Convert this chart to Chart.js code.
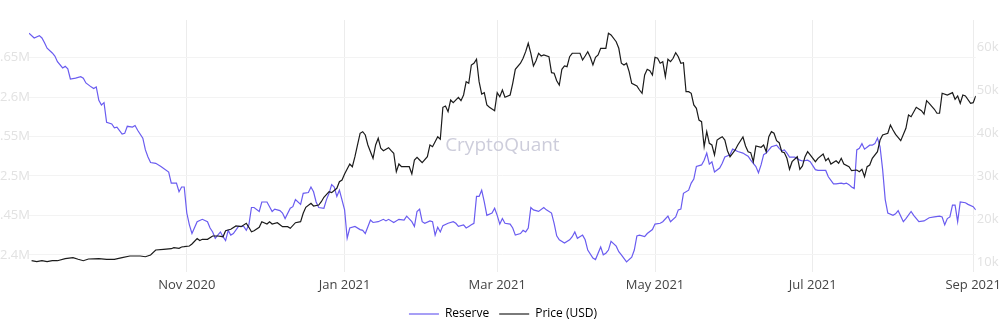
<!DOCTYPE html>
<html>
<head>
<meta charset="utf-8">
<title>Reserve vs Price</title>
<script src="https://cdn.jsdelivr.net/npm/chart.js@4.4.1/dist/chart.umd.min.js"></script>
<style>
  html, body { margin: 0; padding: 0; background: #fff; overflow: hidden; }
  canvas { display: block; }
</style>
</head>
<body>
<canvas id="reserveChart" width="1006" height="330"></canvas>
<script>
// --- Data (x = days since 2020-09-01) ---
const reserveDays = [
  0, 2, 4, 5, 6, 7, 9, 10, 11, 13, 14, 15, 16, 18, 20, 21, 22, 24, 25, 26,
  27, 28, 29, 30, 32, 33, 34, 36, 37, 38, 40, 41, 42, 44, 45, 46, 47, 49, 51, 54,
  55, 57, 58, 59, 60, 61, 62, 63, 65, 67, 69, 70, 71, 72, 74, 75, 76, 77, 78, 79,
  81, 83, 84, 85, 86, 87, 89, 90, 92, 94, 95, 97, 98, 99, 101, 102, 103, 105, 106, 108,
  109, 110, 111, 112, 114, 115, 116, 117, 118, 119, 120, 122, 123, 124, 126, 128, 129, 130, 132, 133,
  135, 137, 138, 139, 141, 143, 145, 146, 148, 149, 150, 151, 152, 153, 155, 156, 157, 158, 159, 160,
  162, 164, 165, 166, 168, 169, 170, 171, 172, 173, 174, 175, 176, 177, 179, 180, 181, 182, 183, 184,
  186, 187, 188, 190, 191, 192, 193, 194, 195, 197, 199, 200, 202, 203, 204, 205, 207, 209, 210, 211,
  212, 214, 215, 216, 218, 219, 220, 221, 222, 223, 224, 225, 227, 228, 229, 231, 233, 234, 235, 236,
  238, 239, 241, 242, 244, 245, 247, 248, 250, 251, 252, 253, 255, 256, 257, 258, 260, 261, 262, 263,
  264, 265, 267, 268, 269, 271, 272, 274, 276, 277, 278, 279, 281, 282, 283, 284, 285, 287, 289, 290,
  291, 292, 293, 294, 296, 297, 298, 299, 301, 302, 304, 305, 307, 308, 309, 311, 312, 314, 315, 316,
  317, 318, 319, 320, 321, 322, 323, 325, 326, 327, 328, 329, 330, 331, 332, 334, 335, 336, 338, 339,
  341, 342, 344, 346, 348, 350, 352, 353, 354, 355, 356, 357, 358, 359, 360, 362, 363, 365, 366
];
// exchange reserve, millions of BTC
const reserveValues = [
  2.681, 2.675, 2.678, 2.675, 2.669, 2.662, 2.656, 2.652, 2.645, 2.637, 2.639, 2.636, 2.623, 2.624, 2.626, 2.624, 2.618, 2.613, 2.611, 2.613,
  2.596, 2.590, 2.593, 2.568, 2.566, 2.561, 2.562, 2.553, 2.554, 2.563, 2.562, 2.564, 2.558, 2.548, 2.533, 2.524, 2.517, 2.516, 2.512, 2.505,
  2.491, 2.491, 2.480, 2.486, 2.486, 2.453, 2.438, 2.427, 2.442, 2.445, 2.442, 2.434, 2.429, 2.421, 2.429, 2.423, 2.418, 2.431, 2.425, 2.427,
  2.436, 2.436, 2.431, 2.438, 2.460, 2.460, 2.455, 2.467, 2.467, 2.455, 2.458, 2.456, 2.453, 2.446, 2.459, 2.461, 2.470, 2.464, 2.478, 2.479,
  2.486, 2.480, 2.467, 2.460, 2.459, 2.470, 2.478, 2.489, 2.486, 2.474, 2.482, 2.457, 2.421, 2.434, 2.436, 2.432, 2.431, 2.427, 2.444, 2.441,
  2.442, 2.445, 2.443, 2.445, 2.441, 2.445, 2.444, 2.449, 2.442, 2.436, 2.455, 2.458, 2.442, 2.440, 2.443, 2.442, 2.425, 2.435, 2.429, 2.437,
  2.440, 2.442, 2.440, 2.436, 2.438, 2.434, 2.436, 2.438, 2.440, 2.474, 2.474, 2.482, 2.467, 2.450, 2.453, 2.459, 2.450, 2.439, 2.446, 2.440,
  2.439, 2.434, 2.425, 2.427, 2.431, 2.429, 2.434, 2.460, 2.457, 2.455, 2.460, 2.457, 2.453, 2.440, 2.424, 2.419, 2.415, 2.419, 2.423, 2.429,
  2.421, 2.425, 2.419, 2.406, 2.396, 2.394, 2.402, 2.410, 2.400, 2.402, 2.406, 2.417, 2.411, 2.404, 2.400, 2.391, 2.397, 2.406, 2.424, 2.425,
  2.423, 2.427, 2.432, 2.439, 2.440, 2.442, 2.449, 2.442, 2.448, 2.457, 2.458, 2.478, 2.482, 2.491, 2.496, 2.512, 2.514, 2.520, 2.529, 2.515,
  2.518, 2.505, 2.510, 2.516, 2.524, 2.527, 2.534, 2.531, 2.529, 2.527, 2.525, 2.520, 2.512, 2.504, 2.514, 2.527, 2.529, 2.537, 2.539, 2.535,
  2.532, 2.533, 2.529, 2.524, 2.524, 2.522, 2.520, 2.519, 2.520, 2.518, 2.508, 2.507, 2.507, 2.507, 2.499, 2.490, 2.490, 2.491, 2.490, 2.491,
  2.489, 2.486, 2.484, 2.533, 2.535, 2.541, 2.534, 2.539, 2.539, 2.541, 2.548, 2.537, 2.508, 2.470, 2.453, 2.450, 2.452, 2.456, 2.442, 2.446,
  2.455, 2.450, 2.442, 2.443, 2.447, 2.448, 2.449, 2.448, 2.438, 2.446, 2.448, 2.463, 2.463, 2.442, 2.467, 2.466, 2.464, 2.461, 2.457
];

const priceDays = [
  1, 3, 5, 7, 9, 11, 14, 17, 19, 21, 23, 27, 30, 33, 36, 39, 43, 45, 47, 49,
  52, 55, 56, 58, 59, 60, 62, 63, 65, 66, 67, 69, 71, 73, 75, 76, 78, 80, 82, 84,
  85, 86, 87, 89, 90, 92, 93, 94, 96, 98, 100, 101, 103, 105, 106, 107, 109, 110, 112, 113,
  114, 116, 117, 119, 120, 121, 122, 124, 125, 126, 127, 128, 129, 130, 131, 132, 133, 134, 135, 136,
  137, 139, 140, 141, 142, 143, 144, 146, 147, 148, 149, 150, 151, 152, 154, 155, 156, 157, 158, 159,
  160, 161, 162, 163, 164, 166, 167, 168, 169, 170, 171, 172, 173, 174, 175, 176, 177, 178, 180, 181,
  182, 183, 184, 186, 187, 188, 190, 191, 192, 193, 194, 195, 196, 197, 198, 199, 201, 202, 203, 204,
  205, 206, 207, 208, 209, 210, 213, 214, 215, 216, 217, 218, 219, 220, 221, 223, 224, 225, 227, 228,
  229, 230, 231, 232, 233, 235, 236, 237, 238, 239, 240, 241, 242, 243, 244, 245, 246, 247, 248, 249,
  250, 251, 252, 253, 254, 255, 256, 257, 258, 259, 260, 261, 262, 263, 264, 265, 266, 267, 268, 269,
  270, 271, 272, 273, 274, 276, 277, 278, 279, 280, 281, 283, 284, 285, 286, 287, 288, 289, 290, 291,
  292, 293, 294, 295, 297, 298, 299, 300, 301, 302, 304, 305, 307, 308, 309, 310, 312, 313, 314, 315,
  317, 318, 320, 321, 322, 323, 324, 325, 326, 328, 329, 330, 332, 333, 334, 335, 337, 339, 340, 341,
  343, 345, 346, 347, 348, 350, 351, 352, 353, 355, 357, 358, 359, 360, 361, 362, 364, 365, 366
];
// BTC price, thousands of USD
const priceValues = [
  10.37, 10.14, 10.37, 10.14, 10.37, 10.37, 10.84, 11.07, 10.70, 10.37, 10.77, 10.84, 10.70, 10.70, 11.07, 11.47, 11.47, 11.30, 11.70, 12.87,
  13.03, 13.17, 13.40, 13.26, 13.56, 13.63, 13.80, 14.26, 15.55, 15.08, 15.36, 15.36, 16.13, 16.13, 15.96, 17.36, 17.69, 18.46, 18.29, 19.09,
  18.15, 17.13, 17.36, 18.15, 19.46, 18.92, 19.46, 18.92, 19.23, 18.29, 18.29, 17.92, 19.23, 19.46, 21.42, 22.81, 23.75, 23.12, 23.35, 24.12,
  25.14, 26.45, 26.22, 27.24, 28.78, 29.18, 30.57, 32.90, 32.27, 34.60, 37.33, 40.06, 40.43, 39.66, 37.33, 35.77, 34.23, 37.33, 38.89, 36.56,
  36.00, 36.70, 36.00, 35.40, 31.11, 32.90, 32.27, 32.27, 32.27, 30.57, 33.84, 34.46, 33.84, 33.21, 34.60, 37.33, 36.93, 38.10, 39.26, 38.66,
  46.11, 46.42, 45.09, 47.81, 47.19, 48.44, 47.65, 48.98, 52.08, 51.71, 55.97, 56.37, 57.30, 52.08, 49.21, 49.52, 46.65, 46.11, 45.32, 49.52,
  48.58, 50.14, 48.44, 48.98, 51.71, 54.97, 56.37, 57.53, 59.07, 61.03, 58.70, 55.74, 56.97, 58.70, 58.07, 58.30, 57.90, 54.18, 54.04, 52.30,
  51.31, 54.97, 55.74, 55.57, 57.90, 58.70, 58.70, 57.13, 58.07, 59.07, 57.76, 55.97, 57.76, 58.30, 59.86, 59.86, 63.36, 62.96, 61.40, 59.86,
  56.37, 55.97, 56.37, 54.41, 51.71, 51.08, 50.14, 49.38, 53.64, 54.97, 54.64, 53.64, 57.76, 57.53, 56.37, 56.74, 53.24, 57.30, 56.74, 57.53,
  58.83, 57.90, 56.37, 56.51, 49.75, 49.75, 49.38, 46.65, 45.88, 43.15, 42.76, 36.93, 40.43, 37.73, 37.33, 35.00, 38.49, 38.89, 39.26, 38.49,
  36.00, 34.60, 35.40, 36.17, 37.33, 39.19, 37.09, 35.77, 35.54, 33.44, 37.09, 36.79, 37.33, 35.77, 39.26, 40.43, 40.06, 38.33, 37.87, 35.77,
  35.54, 34.23, 31.67, 33.44, 34.60, 31.67, 32.44, 34.60, 35.77, 35.00, 33.44, 34.23, 35.23, 33.67, 34.23, 32.90, 33.67, 33.07, 34.23, 32.90,
  32.27, 31.34, 31.50, 31.11, 31.67, 29.94, 32.27, 32.67, 34.23, 35.77, 38.49, 39.66, 40.06, 41.99, 40.82, 39.80, 38.33, 41.22, 44.32, 43.92,
  46.11, 45.32, 44.55, 47.65, 47.04, 45.65, 44.72, 44.72, 49.38, 48.98, 49.52, 47.98, 48.75, 47.05, 48.98, 48.75, 47.05, 47.19, 48.75
];

// month gridlines / labels along the bottom
const monthTickDays = [61, 122, 181, 242, 303, 365];
const monthTickLabels = ["Nov 2020", "Jan 2021", "Mar 2021", "May 2021", "Jul 2021", "Sep 2021"];
const reserveTicks = [2.4, 2.45, 2.5, 2.55, 2.6, 2.65];
const priceTicks = [10, 20, 30, 40, 50, 60];

const seriesNames = ["Reserve", "Price (USD)"];

// --- Styling ---
const FONT = '"Open Sans", "Liberation Sans", Arial, sans-serif';
const RESERVE_COLOR = "#6a5cf0";
const PRICE_COLOR = "#1b1b1b";

const toPoints = (days, values) => days.map((d, i) => ({ x: d, y: values[i] }));

// faint brand mark in the middle of the plot
const watermark = {
  id: "watermark",
  beforeDatasetsDraw(chart) {
    const { ctx, chartArea } = chart;
    ctx.save();
    ctx.font = `19px ${FONT}`;
    ctx.fillStyle = "rgba(192, 192, 210, 0.8)";
    ctx.textAlign = "center";
    ctx.textBaseline = "middle";
    ctx.fillText("CryptoQuant", (chartArea.left + chartArea.right) / 2, (chartArea.top + chartArea.bottom) / 2);
    ctx.restore();
  },
};

const fixTicks = (values) => (scale) => {
  scale.ticks = values.map((v) => ({ value: v }));
};

const ctx = document.getElementById("reserveChart").getContext("2d");

new Chart(ctx, {
  type: "line",
  data: {
    datasets: [
      {
        label: seriesNames[0],
        data: toPoints(reserveDays, reserveValues),
        yAxisID: "yReserve",
        borderColor: RESERVE_COLOR,
        backgroundColor: RESERVE_COLOR,
        borderWidth: 1.2,
        pointRadius: 0,
        tension: 0,
        order: 1,
      },
      {
        label: seriesNames[1],
        data: toPoints(priceDays, priceValues),
        yAxisID: "yPrice",
        borderColor: PRICE_COLOR,
        backgroundColor: PRICE_COLOR,
        borderWidth: 1.2,
        pointRadius: 0,
        tension: 0,
        order: 0,
      },
    ],
  },
  options: {
    responsive: false,
    animation: false,
    devicePixelRatio: 1,
    layout: { padding: { top: 20, left: 0, right: 0, bottom: 0 } },
    plugins: {
      tooltip: { enabled: false },
      legend: {
        position: "bottom",
        labels: {
          boxWidth: 30,
          boxHeight: 2,
          padding: 10,
          color: "#6b6b6b",
          font: { family: FONT, size: 12 },
          generateLabels: () => [
            { text: seriesNames[0], fillStyle: "#a79ff6", strokeStyle: "#a79ff6", lineWidth: 0, datasetIndex: 0 },
            { text: seriesNames[1], fillStyle: "#7a7a7a", strokeStyle: "#7a7a7a", lineWidth: 0, datasetIndex: 1 },
          ],
        },
      },
    },
    scales: {
      x: {
        type: "linear",
        min: 0,
        max: 366,
        afterBuildTicks: fixTicks(monthTickDays),
        afterFit: (scale) => { scale.height = 26; },
        border: { display: false },
        grid: { color: "#ececec", drawTicks: false },
        ticks: {
          padding: 5,
          maxRotation: 0,
          autoSkip: false,
          color: "#444",
          font: { family: FONT, size: 13 },
          callback: (v) => monthTickLabels[monthTickDays.indexOf(v)],
        },
      },
      yReserve: {
        position: "left",
        min: 2.3782,
        max: 2.6978,
        afterBuildTicks: fixTicks(reserveTicks),
        afterFit: (scale) => { scale.width = 29; },
        border: { display: false },
        grid: { color: "#f3f3f3", drawTicks: false },
        ticks: {
          padding: -1,
          color: "#e2e2e2",
          font: { family: FONT, size: 13 },
          callback: (v) => v + "M",
        },
      },
      yPrice: {
        position: "right",
        min: 7.74,
        max: 66.45,
        afterBuildTicks: fixTicks(priceTicks),
        afterFit: (scale) => { scale.width = 28; },
        border: { display: false },
        grid: { display: false, drawTicks: false },
        ticks: {
          padding: 1,
          color: "#e2e2e2",
          font: { family: FONT, size: 13 },
          callback: (v) => v + "k",
        },
      },
    },
  },
  plugins: [watermark],
});
</script>
</body>
</html>
